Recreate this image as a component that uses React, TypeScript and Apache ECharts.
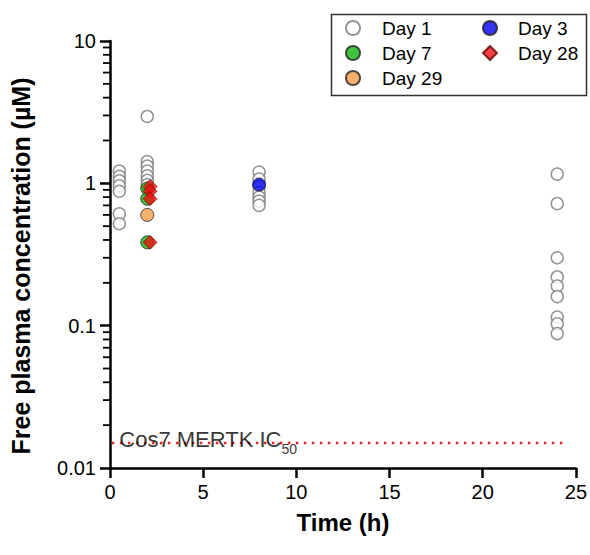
import React, { useEffect, useRef } from "react";
import * as echarts from "echarts";

// ---- data ----
const day1Times = [0.5, 0.5, 0.5, 0.5, 0.5, 0.5, 0.5, 2, 2, 2, 2, 2, 2, 2, 8, 8, 8, 8, 8, 8, 8, 24, 24, 24, 24, 24, 24, 24, 24, 24];
const day1Values = [1.22, 1.12, 1.04, 0.96, 0.88, 0.61, 0.52, 2.95, 1.42, 1.32, 1.22, 1.13, 1.05, 0.98, 1.2, 1.07, 0.95, 0.86, 0.8, 0.75, 0.7, 1.16, 0.72, 0.3, 0.22, 0.19, 0.16, 0.115, 0.103, 0.088];
const day3Times = [8];
const day3Values = [0.98];
const day7Times = [2, 2, 2];
const day7Values = [0.92, 0.78, 0.385];
const day28Times = [2.15, 2.15, 2.15, 2.15];
const day28Values = [0.95, 0.88, 0.78, 0.385];
const day29Times = [2];
const day29Values = [0.6];
const ic50Value = 0.015;
const ic50Span = [0.1, 24.5];
const ic50LabelX = 0.5;
const minorTickValues = [0.02, 0.03, 0.04, 0.05, 0.06, 0.07, 0.08, 0.09, 0.2, 0.3, 0.4, 0.5, 0.6, 0.7, 0.8, 0.9, 2, 3, 4, 5, 6, 7, 8, 9];
const yTickLabels: Record<string, string> = { "0.01": "0.01", "0.1": "0.1", "1": "1", "10": "10" };
const legendCol1 = ["Day 1", "Day 7", "Day 29"];
const legendCol2 = ["Day 3", "Day 28"];
const yTitle = "Free plasma concentration (\u00b5M)";

const FONT = "'Liberation Sans', Arial, Helvetica, sans-serif";

function pairs(xs: number[], ys: number[]) {
  return xs.map((x, i) => [x, ys[i]]);
}

export default function App() {
  const ref = useRef<HTMLDivElement>(null);
  useEffect(() => {
    if (!ref.current) return;
    const chart = echarts.init(ref.current, null, { renderer: "svg" });
    const legendBase = {
      orient: "vertical" as const,
      itemWidth: 14,
      itemHeight: 14,
      itemGap: 5,
      textStyle: { fontFamily: FONT, fontSize: 19, color: "#000", lineHeight: 20, padding: [0, 0, 0, 17] },
      selectedMode: false,
    };
    const baseGraphic: any[] = [
      { type: "rect", left: 329, top: 12, shape: { width: 255, height: 81 }, style: { fill: "none", stroke: "#333", lineWidth: 1.5 }, z: 10 },
      {
        type: "text",
        x: 21,
        y: 266,
        rotation: Math.PI / 2,
        style: { text: yTitle, fontFamily: FONT, fontSize: 25, fontWeight: "bold", fill: "#000", align: "center", verticalAlign: "middle" },
      },
    ];
    chart.setOption({
      animation: false,
      backgroundColor: "#fff",
      grid: { left: 110, right: 12, top: 41, bottom: 87 },
      legend: [
        { ...legendBase, data: legendCol1, left: 340, top: 13 },
        { ...legendBase, data: legendCol2, left: 477, top: 13, textStyle: { ...legendBase.textStyle, padding: [0, 0, 0, 16] } },
      ],
      graphic: baseGraphic,
      xAxis: {
        type: "value",
        min: 0,
        max: 25,
        interval: 5,
        name: "Time (h)",
        nameLocation: "middle",
        nameGap: 42,
        nameTextStyle: { fontFamily: FONT, fontSize: 24, fontWeight: "bold", color: "#000" },
        axisLine: { show: true, onZero: false, lineStyle: { color: "#000", width: 2.5 } },
        axisTick: { show: true, length: 10, lineStyle: { color: "#000", width: 2.5 } },
        axisLabel: { fontFamily: FONT, fontSize: 20, color: "#000", margin: 14 },
        splitLine: { show: false },
      },
      yAxis: {
        type: "log",
        logBase: 10,
        min: 0.01,
        max: 10,
        axisLine: { show: true, lineStyle: { color: "#000", width: 2.5 } },
        axisTick: { show: true, length: 10, lineStyle: { color: "#000", width: 2.5 } },
        axisLabel: {
          fontFamily: FONT,
          fontSize: 20,
          color: "#000",
          margin: 14,
          formatter: (v: number) => yTickLabels[String(+v.toPrecision(6))] ?? String(v),
        },
        splitLine: { show: false },
      },
      series: [
        {
          type: "line",
          silent: true,
          data: ic50Span.map((x) => [x, ic50Value]),
          symbol: "none",
          lineStyle: { color: "#f02020", width: 2.5, type: [2.5, 5.5], cap: "butt" },
          z: 2,
        },
        {
          type: "scatter",
          silent: true,
          data: [[ic50LabelX, ic50Value]],
          symbolSize: 0.1,
          itemStyle: { color: "transparent" },
          label: {
            show: true,
            position: [0, -14],
            align: "left",
            verticalAlign: "top",
            formatter: "{a|Cos7 MERTK IC}{b|50}",
            rich: {
              a: { fontFamily: FONT, fontSize: 22, color: "#000", lineHeight: 21, verticalAlign: "top" },
              b: { fontFamily: FONT, fontSize: 14, color: "#000", lineHeight: 27, verticalAlign: "bottom" },
            },
          },
          z: 3,
        },
        {
          name: "Day 1",
          type: "scatter",
          data: pairs(day1Times, day1Values),
          symbol: "circle",
          symbolSize: 12,
          itemStyle: { color: "#fff", borderColor: "#7a7a7a", borderWidth: 1.5 },
          z: 4,
        },
        {
          name: "Day 3",
          type: "scatter",
          data: pairs(day3Times, day3Values),
          symbol: "circle",
          symbolSize: 13,
          itemStyle: { color: "#0000f0", borderColor: "#222", borderWidth: 1 },
          z: 5,
        },
        {
          name: "Day 7",
          type: "scatter",
          data: pairs(day7Times, day7Values),
          symbol: "circle",
          symbolSize: 13,
          itemStyle: { color: "#12b412", borderColor: "#222", borderWidth: 1 },
          z: 6,
        },
        {
          name: "Day 28",
          type: "scatter",
          data: pairs(day28Times, day28Values),
          symbol: "diamond",
          symbolSize: 14,
          itemStyle: { color: "#ee1111", borderColor: "#600", borderWidth: 0.8 },
          z: 7,
        },
        {
          name: "Day 29",
          type: "scatter",
          data: pairs(day29Times, day29Values),
          symbol: "circle",
          symbolSize: 13,
          itemStyle: { color: "#f39c46", borderColor: "#222", borderWidth: 1 },
          z: 8,
        },
      ],
    });

    // minor log ticks, positioned through the chart's own axis scales
    const x0 = chart.convertToPixel({ xAxisIndex: 0 }, 0) as number;
    const tickLines = minorTickValues.map((v) => {
      const y = chart.convertToPixel({ yAxisIndex: 0 }, v) as number;
      return {
        type: "line",
        silent: true,
        shape: { x1: x0 - 7, y1: y, x2: x0, y2: y },
        style: { stroke: "#000", lineWidth: 1.8 },
        z: 5,
      };
    });
    if (Number.isFinite(x0)) {
      chart.setOption({ graphic: [...baseGraphic, ...tickLines] });
    }
    return () => chart.dispose();
  }, []);
  return <div ref={ref} style={{ position: "fixed", left: 0, top: 0, width: 590, height: 555 }} />;
}
